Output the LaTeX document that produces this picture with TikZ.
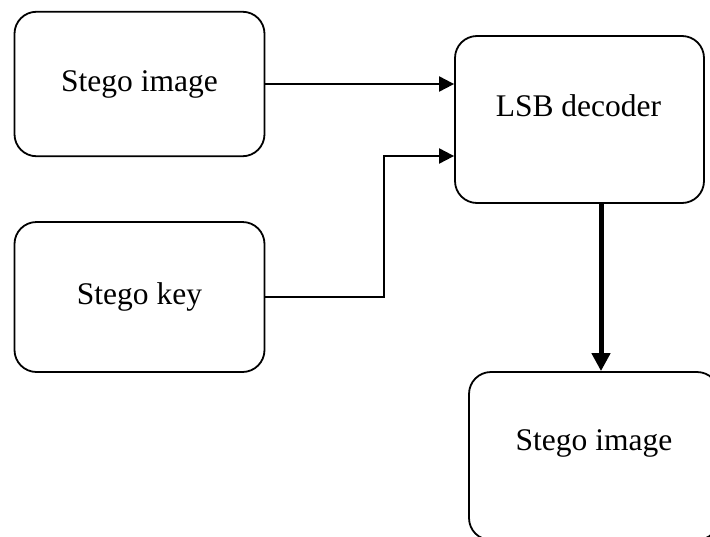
\documentclass[tikz,border=0pt]{standalone}
\usepackage{fontspec}
\setmainfont{Liberation Serif}
\usetikzlibrary{arrows.meta}
\tikzset{
  box/.style={draw, line width=1.8pt, rounded corners=22pt, inner sep=0pt},
  txt/.style={inner sep=0pt, font=\fontsize{31.5}{38}\selectfont},
  arr/.style={line width=2pt, -{Triangle[length=15pt,width=15pt]}},
  bigarr/.style={line width=5pt, -{Triangle[length=18pt,width=18pt]}},
}
\begin{document}
\begin{tikzpicture}[x=1pt,y=-1pt]
  \clip (0,0) rectangle (710,536);
  \fill[white] (0,0) rectangle (710,536);
  % input boxes
  \node[box, minimum width=250pt, minimum height=144.5pt, txt] (img) at (139.5,84) {Stego image};
  \node[box, minimum width=250pt, minimum height=150pt, txt] (key) at (139.5,297) {Stego key};
  % decoder
  \node[box, minimum width=249pt, minimum height=167pt] (lsb) at (579.5,119.5) {};
  \node[txt] (lsbtext) at (578.5,106) {LSB decoder};
  % output box (runs off the page edge)
  \node[box, minimum width=250pt, minimum height=168pt] (out) at (594,456) {};
  \node[txt] (outtext) at (594,443) {Stego image};
  % connectors
  \draw[arr] (img.east) -- (img.east -| lsb.west);
  \draw[arr] (key.east) -- (384,297) |- ([yshift=-36.5pt]lsb.west);
  \draw[bigarr] ([xshift=21.5pt]lsb.south) -- ([xshift=21.5pt]lsb.south |- out.north);
\end{tikzpicture}
\end{document}
